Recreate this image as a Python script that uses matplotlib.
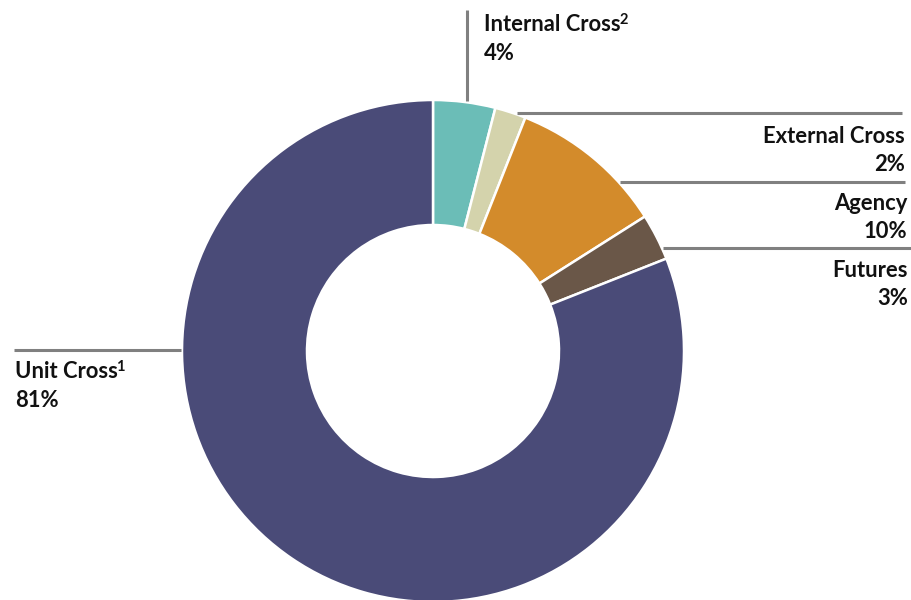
import matplotlib
matplotlib.use("Agg")
import matplotlib.pyplot as plt

labels = ["Internal Cross", "External Cross", "Agency", "Futures", "Unit Cross"]
footnotes = ["2", "", "", "", "1"]
values = [4, 2, 10, 3, 81]
colors = ["#6BBDB7", "#D4D3AC", "#D38B2B", "#6A5748", "#4A4B78"]

W, H = 911, 600
fig = plt.figure(figsize=(W / 100, H / 100), dpi=100)
ax = fig.add_axes([0, 0, 1, 1])

def Y(y):
    return H - y

cx, cy, R = 433, 351, 251
ax.pie(values, colors=colors, startangle=90, counterclock=False,
       radius=R, center=(cx, Y(cy)), frame=True,
       wedgeprops=dict(width=125, edgecolor="white", linewidth=1.8))
ax.set_xlim(0, W)
ax.set_ylim(0, H)
ax.set_aspect("equal")
ax.axis("off")

lc = "#808080"
lw = 2.2
font = dict(family=["Lato", "DejaVu Sans"], fontweight="bold", fontsize=15.8, color="#111111")
supfont = dict(family=["Lato", "DejaVu Sans"], fontweight="bold", fontsize=10.5, color="#111111")

def label(i, x, y1, y2, ha):
    t = ax.text(x, Y(y1), labels[i], ha=ha, va="baseline", **font)
    if footnotes[i]:
        ax.annotate(footnotes[i], xy=(1, 1), xycoords=t, xytext=(-1, 0.5),
                    textcoords="offset points", ha="left", va="top", **supfont)
    ax.text(x, Y(y2), f"{values[i]}%", ha=ha, va="baseline", **font)

# Internal Cross
ax.plot([467, 467], [Y(10), Y(101)], color=lc, lw=lw, solid_capstyle="butt")
label(0, 484, 31, 60, "left")

# External Cross
ax.plot([517, 902], [Y(113), Y(113)], color=lc, lw=lw, solid_capstyle="butt")
label(1, 905, 143, 171, "right")

# Agency
ax.plot([620, 905], [Y(182), Y(182)], color=lc, lw=lw, solid_capstyle="butt")
label(2, 907, 210, 238, "right")

# Futures
ax.plot([663, 911], [Y(248), Y(248)], color=lc, lw=lw, solid_capstyle="butt")
label(3, 908, 277, 305, "right")

# Unit Cross
ax.plot([14, 181], [Y(350), Y(350)], color=lc, lw=lw, solid_capstyle="butt")
label(4, 15, 378, 407, "left")

fig.savefig("out.png", dpi=100)
